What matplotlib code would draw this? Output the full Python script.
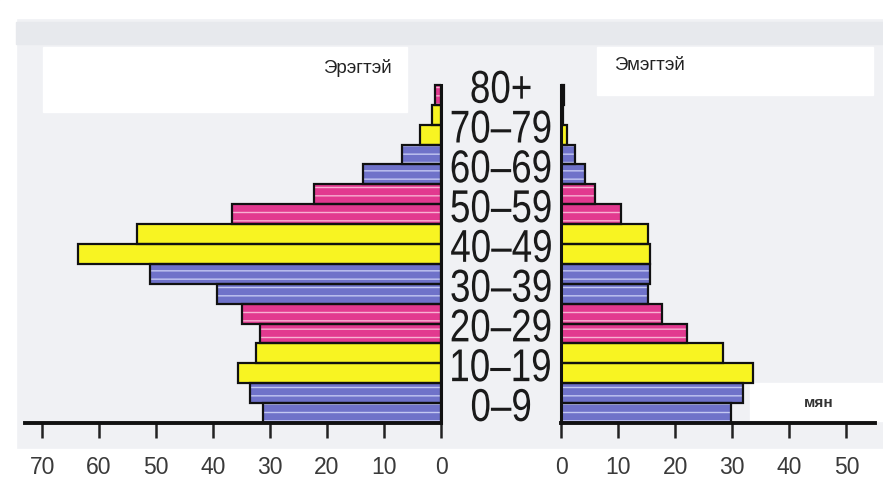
import matplotlib.pyplot as plt
from matplotlib.font_manager import FontProperties
from matplotlib.patches import PathPatch, Rectangle
from matplotlib.textpath import TextPath
from matplotlib.transforms import Affine2D

# age groups, bottom to top
age_labels = ["0–9", "10–19", "20–29", "30–39", "40–49", "50–59", "60–69", "70–79", "80+"]

# thousands, one value per half-decade bar, bottom to top (80+ has a single bar)
male = [31.2, 33.5, 35.6, 32.5, 31.8, 34.9, 39.3, 51.0, 63.7,
        53.4, 36.7, 22.3, 13.7, 6.8, 3.7, 1.6, 1.0]
female = [29.8, 31.8, 33.7, 28.4, 22.0, 17.7, 15.3, 15.6, 15.6,
          15.3, 10.5, 6.0, 4.2, 2.4, 1.1, 0.4, 0.5]

male_ticks = [0, 10, 20, 30, 40, 50, 60, 70]
female_ticks = [0, 10, 20, 30, 40, 50]

# fill colour, hatch colour
group_styles = [("#6f72c9", "#c3c8f2"), ("#f8f422", None), ("#e2398f", "#f8b0d2")]

W, H = 883.0, 491.0


def draw_side(ax, values):
    for i, v in enumerate(values):
        fill, hatch_col = group_styles[(i // 2) % 3]
        if hatch_col:
            ax.barh(i, v, height=1.0, align="edge", color=fill, edgecolor=hatch_col,
                    linewidth=0, hatch="--", zorder=2)
        else:
            ax.barh(i, v, height=1.0, align="edge", color=fill, linewidth=0, zorder=2)
        ax.barh(i, v, height=1.0, align="edge", fill=False, edgecolor="#111111",
                linewidth=1.6, zorder=3)
    ax.plot([0, 0], [0, len(values)], color="#111111", lw=2.2, zorder=4, clip_on=False)


def setup_axis(ax, x_lim, ticks):
    ax.set_xlim(x_lim)
    ax.set_ylim(0, 18)
    ax.set_facecolor("none")
    for side in ["top", "left", "right"]:
        ax.spines[side].set_visible(False)
    ax.spines["bottom"].set_linewidth(2.8)
    ax.spines["bottom"].set_color("#111111")
    ax.set_yticks([])
    ax.set_xticks(ticks)
    ax.set_xticklabels([str(t) for t in ticks])
    ax.tick_params(axis="x", direction="out", length=11, width=1.8, pad=13,
                   labelsize=16.5, labelcolor="#3a3a3a", color="#222222")


# condensed age label: text outline squeezed sideways
def narrow_label(fig, text, x_px, y_px, size_px=46, squeeze=0.8):
    path = TextPath((0, 0), text, size=size_px, prop=FontProperties(family="Liberation Sans"))
    ext = path.get_extents()
    cx = (ext.x0 + ext.x1) / 2
    cy = (ext.y0 + ext.y1) / 2
    tr = (Affine2D().translate(-cx, -cy).scale(squeeze, 1.0)
          .translate(x_px, H - y_px).scale(1 / W, 1 / H) + fig.transFigure)
    fig.patches.append(PathPatch(path, transform=tr, facecolor="#1a1a1a",
                                 edgecolor="none", zorder=5))


def main() -> None:
    plt.rcParams["font.family"] = ["Liberation Sans", "DejaVu Sans"]
    fig = plt.figure(figsize=(8.83, 4.91), dpi=100)
    fig.patch.set_facecolor("#f0f1f4")

    def fig_rect(x, y, w, h, color):
        fig.patches.append(Rectangle((x / W, 1 - (y + h) / H), w / W, h / H,
                                     transform=fig.transFigure, color=color, zorder=-5))

    # paper background pieces
    fig_rect(0, 0, 883, 18, "white")
    fig_rect(0, 0, 16, 491, "white")
    fig_rect(16, 22, 867, 22, "#e7e9ed")
    fig_rect(16, 449, 867, 42, "white")
    fig_rect(43, 47, 364, 65, "white")
    fig_rect(597, 47, 276, 48, "white")
    fig_rect(750, 383, 133, 38, "white")

    bottom = 1 - 423 / H
    height = (423 - 65) / H
    ax_m = fig.add_axes([25 / W, bottom, 416 / W, height])
    ax_f = fig.add_axes([561 / W, bottom, 314 / W, height])

    draw_side(ax_m, male)
    draw_side(ax_f, female)
    setup_axis(ax_m, (73, 0), male_ticks)
    setup_axis(ax_f, (0, 55), female_ticks)

    for g, lab in enumerate(age_labels):
        y_px = 423 - (2 * g + 1) * (358 / 18)
        narrow_label(fig, lab, 501, y_px + 2)

    fig.text(392 / W, 1 - 68 / H, "Эрэгтэй", ha="right", va="center", fontsize=13.5, color="#222222")
    fig.text(614 / W, 1 - 65 / H, "Эмэгтэй", ha="left", va="center", fontsize=13.5, color="#222222")
    fig.text(819 / W, 1 - 403 / H, "мян", ha="center", va="center", fontsize=11,
             fontweight="bold", color="#333333")

    fig.savefig("out.png", dpi=100, facecolor=fig.get_facecolor())


if __name__ == '__main__':
    main()
